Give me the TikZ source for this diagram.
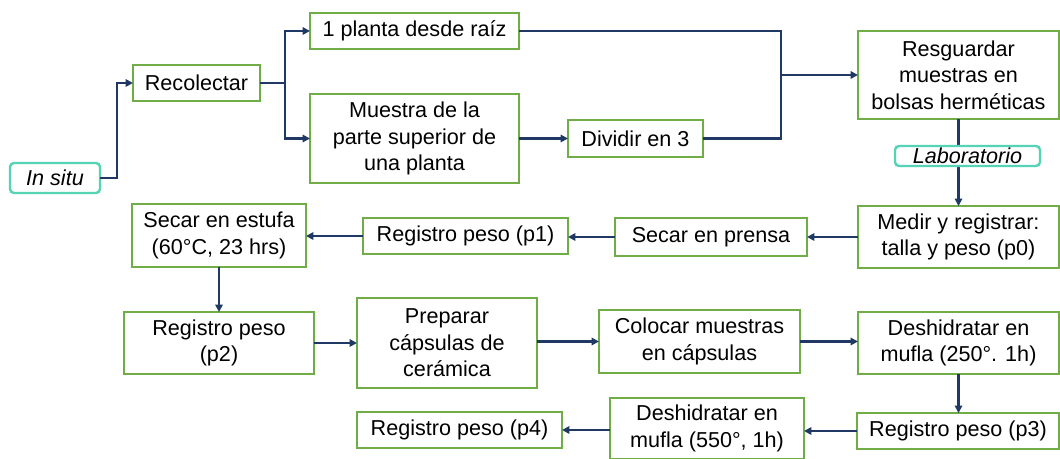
\documentclass[tikz,border=0pt]{standalone}
\usepackage{fontspec}
\setmainfont{Liberation Sans}
\usetikzlibrary{arrows.meta}
\definecolor{boxgreen}{HTML}{70AD47}
\definecolor{aqua}{HTML}{56D3B5}
\definecolor{navy}{HTML}{1F3864}
\tikzset{
  box/.style={draw=boxgreen, line width=2.1pt, fill=white, align=center, inner sep=0pt, outer sep=0pt,
    font=\fontsize{16.2}{19.9}\selectfont, text=black},
  place/.style={draw=aqua, line width=1.8pt, rounded corners=3pt, fill=white, align=center, inner sep=0pt,
    outer sep=0pt, font=\fontsize{16.2}{19.9}\selectfont\itshape, text=black},
  conn/.style={draw=navy, line width=1.8pt},
  arr/.style={conn, -{Triangle[length=5.5pt,width=5.5pt]}},
}
\begin{document}
\begin{tikzpicture}[x=0.75pt, y=-0.75pt]
\useasboundingbox (0,0) rectangle (1060,459);
\fill[white] (0,0) rectangle (1060,459);
% nodes
\node[place, minimum width=90*0.75pt, minimum height=30*0.75pt] (insitu) at (55,178) {In situ};
\node[box, minimum width=127*0.75pt, minimum height=36*0.75pt] (recol) at (196.5,83) {Recolectar};
\node[box, minimum width=209*0.75pt, minimum height=36*0.75pt] (planta) at (414.5,31) {1 planta desde raíz};
\node[box, minimum width=209*0.75pt, minimum height=89*0.75pt] (muestra) at (414.5,138.5) {Muestra de la\\parte superior de\\una planta};
\node[box, minimum width=135*0.75pt, minimum height=37*0.75pt] (dividir) at (635.5,138.5) {Dividir en 3};
\node[box, minimum width=201*0.75pt, minimum height=88*0.75pt] (resg) at (958.5,75) {Resguardar\\muestras en\\bolsas herméticas};
\node[box, minimum width=201*0.75pt, minimum height=62*0.75pt] (medir) at (958.5,237) {Medir y registrar:\\talla y peso (p0)};
\node[box, minimum width=192*0.75pt, minimum height=38*0.75pt] (prensa) at (711,237) {Secar en prensa};
\node[box, minimum width=205*0.75pt, minimum height=36*0.75pt] (p1) at (465.5,236) {Registro peso (p1)};
\node[box, minimum width=174*0.75pt, minimum height=63*0.75pt] (estufa) at (219,235.5) {Secar en estufa\\(60°C, 23 hrs)};
\node[box, minimum width=190*0.75pt, minimum height=62*0.75pt] (p2) at (219,343) {Registro peso\\(p2)};
\node[box, minimum width=180*0.75pt, minimum height=90*0.75pt] (prep) at (447,343) {Preparar\\cápsulas de\\cerámica};
\node[box, minimum width=201*0.75pt, minimum height=63*0.75pt] (coloc) at (699.5,341.5) {Colocar muestras\\en cápsulas};
\node[box, minimum width=201*0.75pt, minimum height=62*0.75pt] (d250) at (958.5,343) {Deshidratar en\\mufla (250°. 1h)};
\node[box, minimum width=202*0.75pt, minimum height=36*0.75pt] (p3) at (958,431) {Registro peso (p3)};
\node[box, minimum width=194*0.75pt, minimum height=61*0.75pt] (d550) at (707,428.5) {Deshidratar en\\mufla (550°, 1h)};
\node[box, minimum width=205*0.75pt, minimum height=36*0.75pt] (p4) at (459.5,430) {Registro peso (p4)};
% connectors
\draw[arr] (insitu.east) -- ++(17,0) |- (recol.west);
\draw[arr] (recol.east) -- ++(25,0) coordinate (s1) |- (planta.west);
\draw[arr] (s1) |- (muestra.west);
\draw[arr] (muestra.east |- dividir.west) -- (dividir.west);
\coordinate (j) at (781,75);
\draw[conn] (planta.east) -| (j) |- (dividir.east);
\draw[arr] (j) -- (resg.west);
\draw[arr] (resg.south) -- (medir.north);
\draw[arr] (medir.west) -- (prensa.east);
\draw[arr] (prensa.west) -- (prensa.west -| p1.east);
\draw[arr] (p1.west) -- (p1.west -| estufa.east);
\draw[arr] (estufa.south) -- (p2.north);
\draw[arr] (p2.east) -- (p2.east -| prep.west);
\draw[arr] (coloc.west -| prep.east) -- (coloc.west);
\draw[arr] (coloc.east) -- (coloc.east -| d250.west);
\draw[arr] (d250.south) -- (d250.south |- p3.north);
\draw[arr] (p3.west) -- (p3.west -| d550.east);
\draw[arr] (d550.west |- p4.east) -- (p4.east);
% place label over the vertical connector
\node[place, minimum width=145*0.75pt, minimum height=20*0.75pt] (lab) at (967.5,156) {Laboratorio};
\end{tikzpicture}
\end{document}
